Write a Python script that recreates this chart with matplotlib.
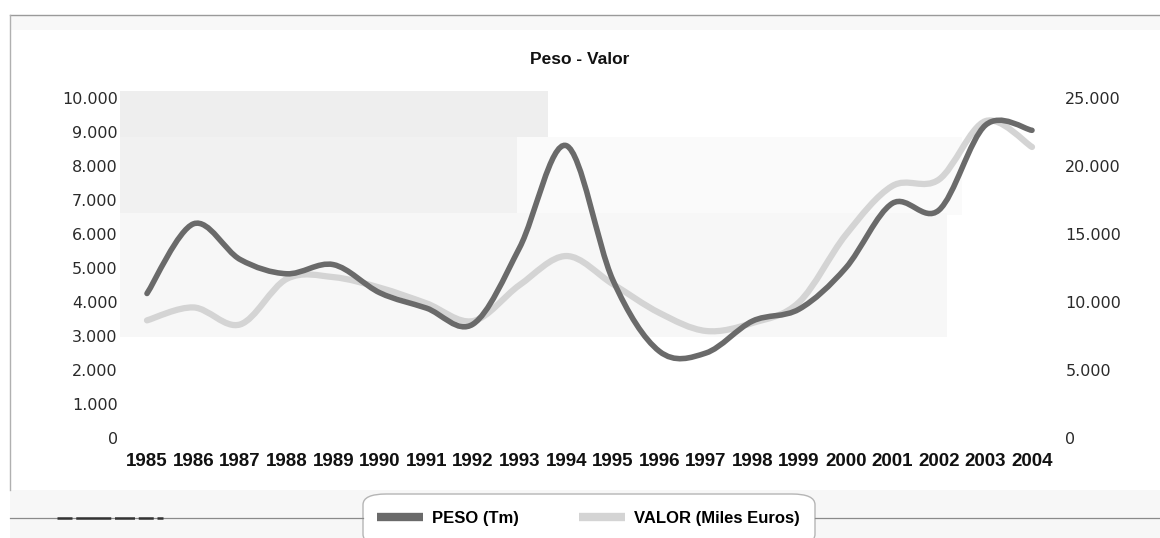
import numpy as np
import matplotlib
matplotlib.use("Agg")
import matplotlib.pyplot as plt
from matplotlib.path import Path
from matplotlib.patches import PathPatch, Rectangle, FancyBboxPatch
from matplotlib.lines import Line2D
from matplotlib.ticker import FuncFormatter

# ------------------------------------------------------------------
# Datos
# ------------------------------------------------------------------
years = list(range(1985, 2005))
peso_tm = [4250, 6300, 5250, 4830, 5100, 4270, 3820, 3350, 5600, 8600,
           4650, 2550, 2500, 3440, 3790, 5000, 6900, 6700, 9200, 9050]
valor_miles_eur = [8650, 9600, 8350, 11700, 11830, 11050, 9900, 8600, 11250, 13380,
                   11320, 9200, 7870, 8460, 9990, 14930, 18530, 19000, 23300, 21400]

left_ticks = list(range(0, 10001, 1000))
right_ticks = list(range(0, 25001, 5000))

BOLD = ["Liberation Sans", "DejaVu Sans"]
PESO_COL = "#6a6a6a"
VALOR_COL = "#d4d4d4"

W, H = 1160, 538


def fx(px):
    return px / W


def fy(py):
    return 1 - py / H


def smooth_path(xs, ys):
    """Curva suavizada tipo Excel (Bezier cubica por los puntos)."""
    pts = np.column_stack([xs, ys]).astype(float)
    n = len(pts)
    verts = [pts[0]]
    codes = [Path.MOVETO]
    for i in range(n - 1):
        p0 = pts[max(i - 1, 0)]
        p1 = pts[i]
        p2 = pts[i + 1]
        p3 = pts[min(i + 2, n - 1)]
        verts += [p1 + (p2 - p0) / 6, p2 - (p3 - p1) / 6, p2]
        codes += [Path.CURVE4] * 3
    return Path(verts, codes)


def miles(v, _pos):
    return f"{int(round(v)):,}".replace(",", ".")


fig = plt.figure(figsize=(W / 100, H / 100), dpi=100)
fig.patch.set_facecolor("white")

# ---- fondo del escaneo (zonas grises) ----
for (x0, y0, x1, y1, c) in [
    (120, 91, 548, 137, "#eeeeee"),
    (120, 137, 517, 213, "#f1f1f1"),
    (517, 137, 962, 215, "#fafafa"),
    (120, 213, 947, 337, "#f7f7f7"),
    (10, 15, 1160, 30, "#f8f8f8"),
    (10, 490, 1160, 538, "#f7f7f7"),
]:
    fig.patches.append(Rectangle((fx(x0), fy(y1)), fx(x1 - x0), (y1 - y0) / H,
                                 transform=fig.transFigure, facecolor=c,
                                 edgecolor="none", zorder=0))

# bordes del marco
fig.add_artist(Line2D([fx(10), fx(1160)], [fy(15), fy(15)], color="#9a9a9a", lw=1))
fig.add_artist(Line2D([fx(10), fx(10)], [fy(15), fy(490)], color="#b0b0b0", lw=1))
fig.add_artist(Line2D([fx(10), fx(363)], [fy(518), fy(518)], color="#8a8a8a", lw=0.9))
fig.add_artist(Line2D([fx(815), fx(1160)], [fy(518), fy(518)], color="#8a8a8a", lw=0.9))
fig.add_artist(Line2D([fx(57), fx(163)], [fy(518), fy(518)], color="#333333", lw=1.8,
                      dashes=(6, 1.5, 14, 1.5, 8, 1.5)))

# ---- ejes ----
ax = fig.add_axes([fx(123.7), fy(438), fx(1055.3 - 123.7), 340 / H])
ax2 = ax.twinx()
ax2.set_zorder(2)
ax.set_zorder(3)
ax.patch.set_visible(False)
ax2.patch.set_visible(False)

ax.set_xlim(1984.5, 2004.5)
ax.set_ylim(0, 10000)
ax2.set_ylim(0, 25000)

ax.add_patch(PathPatch(smooth_path(years, peso_tm), facecolor="none",
                       edgecolor=PESO_COL, lw=4.0, capstyle="round", zorder=3))
ax2.add_patch(PathPatch(smooth_path(years, valor_miles_eur), facecolor="none",
                        edgecolor=VALOR_COL, lw=4.5, capstyle="round", zorder=2))

ax.set_xticks(years)
ax.set_xticklabels([str(y) for y in years], family=BOLD, fontweight="bold",
                   fontsize=13.5, color="#111111")
ax.set_yticks(left_ticks)
ax2.set_yticks(right_ticks)
ax.yaxis.set_major_formatter(FuncFormatter(miles))
ax2.yaxis.set_major_formatter(FuncFormatter(miles))

ax.tick_params(axis="x", length=0, pad=11)
ax.tick_params(axis="y", length=0, pad=4.3, labelsize=11.5, labelcolor="#2a2a2a")
ax2.tick_params(axis="y", length=0, pad=7.2, labelsize=11.5, labelcolor="#2a2a2a")
for a in (ax, ax2):
    for s in a.spines.values():
        s.set_visible(False)

fig.text(0.5, fy(60), "Peso - Valor", ha="center", va="center",
         family=BOLD, fontweight="bold", fontsize=12.5, color="#111111")

# ---- leyenda ----
fig.patches.append(FancyBboxPatch((fx(363), fy(545)), fx(815 - 363), 51 / H,
                                  boxstyle="round,pad=0,rounding_size=0.02",
                                  transform=fig.transFigure, facecolor="white",
                                  edgecolor="#b5b5b5", lw=1.0, zorder=1))
handles = [Line2D([], [], color=PESO_COL, lw=6, solid_capstyle="butt"),
           Line2D([], [], color=VALOR_COL, lw=6, solid_capstyle="butt")]
fig.legend(handles, ["PESO (Tm)", "VALOR (Miles Euros)"], ncol=2, frameon=False,
           loc="center", bbox_to_anchor=(fx(588), fy(518)), handlelength=2.8,
           handletextpad=0.5, columnspacing=3.6,
           prop={"family": "Liberation Sans", "weight": "bold", "size": 12})

fig.savefig("out.png", dpi=100)
